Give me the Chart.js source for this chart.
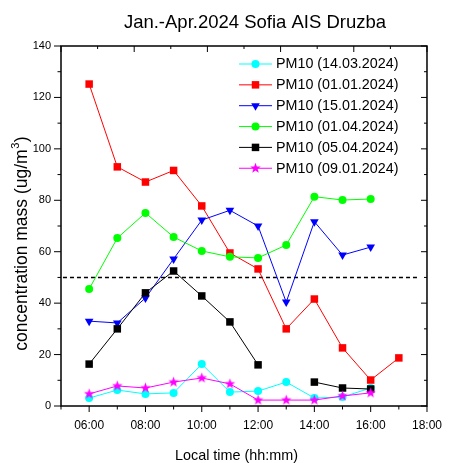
<!DOCTYPE html>
<html>
<head>
<meta charset="utf-8">
<script src="https://cdn.jsdelivr.net/npm/chart.js@4/dist/chart.umd.min.js"></script>
<style>
  html, body { margin: 0; padding: 0; background: #fff; }
  #c { display: block; }
</style>
</head>
<body>
<canvas id="c" width="454" height="463"></canvas>
<script>
// Hourly PM10 concentrations (ug/m3), Sofia AIS Druzba
const HOURS = [6, 7, 8, 9, 10, 11, 12, 13, 14, 15, 16, 17];

const PM10_14_03 = [3.1, 6.2, 4.7, 5.1, 16.3, 5.4, 5.8, 9.3, 3.1, 3.5, 7.0, null];
const PM10_01_01 = [125.2, 93.0, 87.1, 91.6, 77.8, 59.5, 53.3, 30.0, 41.6, 22.6, 10.1, 18.7];
const PM10_15_01 = [33.0, 32.3, 42.0, 57.2, 72.3, 76.1, 70.0, 40.4, 71.7, 58.7, 61.8, null];
const PM10_01_04 = [45.5, 65.3, 75.1, 65.7, 60.3, 58.0, 57.6, 62.6, 81.4, 80.1, 80.5, null];
const PM10_05_04 = [16.3, 30.0, 44.0, 52.5, 42.8, 32.7, 16.0, null, 9.3, 7.0, 6.6, null];
const PM10_09_01 = [4.7, 7.8, 7.0, 9.3, 10.9, 8.6, 2.3, 2.3, 2.3, 3.9, 5.1, null];

const SERIES_LABELS = [
  'PM10 (14.03.2024)',
  'PM10 (01.01.2024)',
  'PM10 (15.01.2024)',
  'PM10 (01.04.2024)',
  'PM10 (05.04.2024)',
  'PM10 (09.01.2024)'
];

// Daily limit value and its drawn extent along the time axis
const LIMIT = 50;
const LIMIT_SPAN = [5.07, 17.7];

const X_TICKS = [6, 8, 10, 12, 14, 16, 18];
const X_TICK_LABELS = ['06:00', '08:00', '10:00', '12:00', '14:00', '16:00', '18:00'];
const Y_TICKS = [0, 20, 40, 60, 80, 100, 120, 140];

const FONT = '"Liberation Sans", Arial, sans-serif';

// Filled five-pointed star used as a point style
function makeStar(color, outer, inner) {
  const size = Math.ceil(outer * 2 + 2);
  const cv = document.createElement('canvas');
  cv.width = size; cv.height = size;
  const g = cv.getContext('2d');
  starPath(g, size / 2, size / 2, outer, inner);
  g.fillStyle = color;
  g.fill();
  return cv;
}
function starPath(g, cx, cy, outer, inner) {
  g.beginPath();
  for (let i = 0; i < 10; i++) {
    const r = i % 2 === 0 ? outer : inner;
    const a = -Math.PI / 2 + i * Math.PI / 5;
    const px = cx + r * Math.cos(a), py = cy + r * Math.sin(a);
    if (i === 0) g.moveTo(px, py); else g.lineTo(px, py);
  }
  g.closePath();
}

const STYLES = [
  { color: '#00FFFF', shape: 'circle', radius: 4 },
  { color: '#FF0000', shape: 'rect', radius: 5.3 },
  { color: '#0000FF', shape: 'triangle', radius: 5, rotation: 180 },
  { color: '#00FF00', shape: 'circle', radius: 4 },
  { color: '#000000', shape: 'rect', radius: 5.3 },
  { color: '#FF00FF', shape: 'star', radius: 5.5 }
];

const SERIES = [PM10_14_03, PM10_01_01, PM10_15_01, PM10_01_04, PM10_05_04, PM10_09_01];

const datasets = SERIES.map((vals, i) => {
  const st = STYLES[i];
  return {
    label: SERIES_LABELS[i],
    data: HOURS.map((h, k) => ({ x: h, y: vals[k] })),
    borderColor: st.color,
    backgroundColor: st.color,
    borderWidth: 1,
    pointStyle: st.shape === 'star' ? makeStar(st.color, 5.5, 2.3) : st.shape,
    pointRadius: st.radius,
    pointRotation: st.rotation || 0,
    pointBorderWidth: 0,
    spanGaps: false,
    order: SERIES.length - i
  };
});

datasets.push({
  label: 'limit',
  data: LIMIT_SPAN.map(x => ({ x: x, y: LIMIT })),
  borderColor: '#000',
  borderWidth: 1.6,
  borderDash: [4, 3],
  pointRadius: 0,
  order: 99
});

// Frame, tick marks, titles and in-plot legend
const decor = {
  id: 'decor',
  afterDraw(chart) {
    const ctx = chart.ctx;
    const a = chart.chartArea;
    const xs = chart.scales.x, ys = chart.scales.y;
    ctx.save();
    ctx.strokeStyle = '#000';

    // ticks
    ctx.lineWidth = 1;
    ctx.beginPath();
    for (let v = 0; v <= 140; v += 10) {
      const y = ys.getPixelForValue(v);
      const major = v % 20 === 0;
      ctx.moveTo(a.left - (major ? 7 : 3.5), y); ctx.lineTo(a.left, y);
      ctx.moveTo(a.right, y); ctx.lineTo(a.right - (major ? 6 : 3), y);
    }
    for (let h = 5; h <= 18; h++) {
      const x = xs.getPixelForValue(h);
      const major = h % 2 === 0;
      ctx.moveTo(x, a.bottom); ctx.lineTo(x, a.bottom + (major ? 6 : 3.5));
    }
    for (let i = 0; i <= 10; i++) {
      const x = a.left + i * (a.right - a.left) / 10;
      ctx.moveTo(x, a.top); ctx.lineTo(x, a.top + (i % 2 === 0 ? 6 : 3));
    }
    ctx.stroke();

    // frame
    ctx.lineWidth = 1.5;
    ctx.strokeRect(a.left, a.top, a.right - a.left, a.bottom - a.top);

    ctx.fillStyle = '#000';
    // chart title
    ctx.font = '18.5px ' + FONT;
    ctx.textAlign = 'center';
    ctx.textBaseline = 'alphabetic';
    ctx.fillText('Jan.-Apr.2024 Sofia AIS Druzba', 255, 28);

    // x title
    ctx.font = '14.4px ' + FONT;
    ctx.fillText('Local time (hh:mm)', 236.5, 459.5);

    // y title with superscript
    ctx.save();
    ctx.translate(27, 244);
    ctx.rotate(-Math.PI / 2);
    const mainF = '17.5px ' + FONT, supF = '11px ' + FONT;
    const t1 = 'concentration mass (ug/m', t2 = '3', t3 = ')';
    ctx.font = mainF; const w1 = ctx.measureText(t1).width, w3 = ctx.measureText(t3).width;
    ctx.font = supF; const w2 = ctx.measureText(t2).width;
    let x0 = -(w1 + w2 + w3) / 2;
    ctx.textAlign = 'left';
    ctx.font = mainF; ctx.fillText(t1, x0, 0);
    ctx.font = supF; ctx.fillText(t2, x0 + w1 + 0.5, -8);
    ctx.font = mainF; ctx.fillText(t3, x0 + w1 + w2 + 1, 0);
    ctx.restore();

    // legend
    ctx.font = '14.3px ' + FONT;
    ctx.textAlign = 'left';
    ctx.textBaseline = 'middle';
    SERIES_LABELS.forEach((lab, i) => {
      const st = STYLES[i];
      const y = 64 + i * 20.85;
      ctx.strokeStyle = st.color;
      ctx.lineWidth = 1;
      ctx.beginPath(); ctx.moveTo(239, y); ctx.lineTo(272, y); ctx.stroke();
      drawMarker(ctx, st, 255.5, y);
      ctx.fillStyle = '#000';
      ctx.fillText(lab, 276, y + 0.5);
    });
    ctx.restore();
  }
};

function drawMarker(ctx, st, x, y) {
  ctx.fillStyle = st.color;
  const r = st.radius;
  ctx.beginPath();
  if (st.shape === 'circle') {
    ctx.arc(x, y, r, 0, Math.PI * 2);
  } else if (st.shape === 'rect') {
    const s = r * Math.SQRT1_2;
    ctx.rect(x - s, y - s, 2 * s, 2 * s);
  } else if (st.shape === 'triangle') {
    for (let k = 0; k < 3; k++) {
      const ang = Math.PI + k * 2 * Math.PI / 3;
      const px = x + Math.sin(ang) * r, py = y - Math.cos(ang) * r;
      if (k === 0) ctx.moveTo(px, py); else ctx.lineTo(px, py);
    }
    ctx.closePath();
  } else if (st.shape === 'star') {
    starPath(ctx, x, y, 5.5, 2.3);
  }
  ctx.fill();
}

new Chart(document.getElementById('c'), {
  type: 'line',
  data: { datasets: datasets },
  plugins: [decor],
  options: {
    responsive: false,
    animation: false,
    devicePixelRatio: 1,
    layout: { padding: { top: 46, right: 16, left: 0, bottom: 0 } },
    plugins: { legend: { display: false }, tooltip: { enabled: false }, title: { display: false } },
    scales: {
      x: {
        type: 'linear', min: 5, max: 18,
        grid: { display: false, drawTicks: false },
        border: { display: false },
        afterBuildTicks: s => { s.ticks = X_TICKS.map(v => ({ value: v })); },
        ticks: {
          autoSkip: false, maxRotation: 0, padding: 12, color: '#000',
          font: { family: FONT, size: 12 },
          callback: v => X_TICK_LABELS[X_TICKS.indexOf(v)]
        },
        afterFit: s => { s.height = 57; }
      },
      y: {
        type: 'linear', min: 0, max: 140,
        grid: { display: false, drawTicks: false },
        border: { display: false },
        afterBuildTicks: s => { s.ticks = Y_TICKS.map(v => ({ value: v })); },
        ticks: {
          autoSkip: false, padding: 10, color: '#000',
          font: { family: FONT, size: 11 }
        },
        afterFit: s => { s.width = 61; }
      }
    }
  }
});
</script>
</body>
</html>
